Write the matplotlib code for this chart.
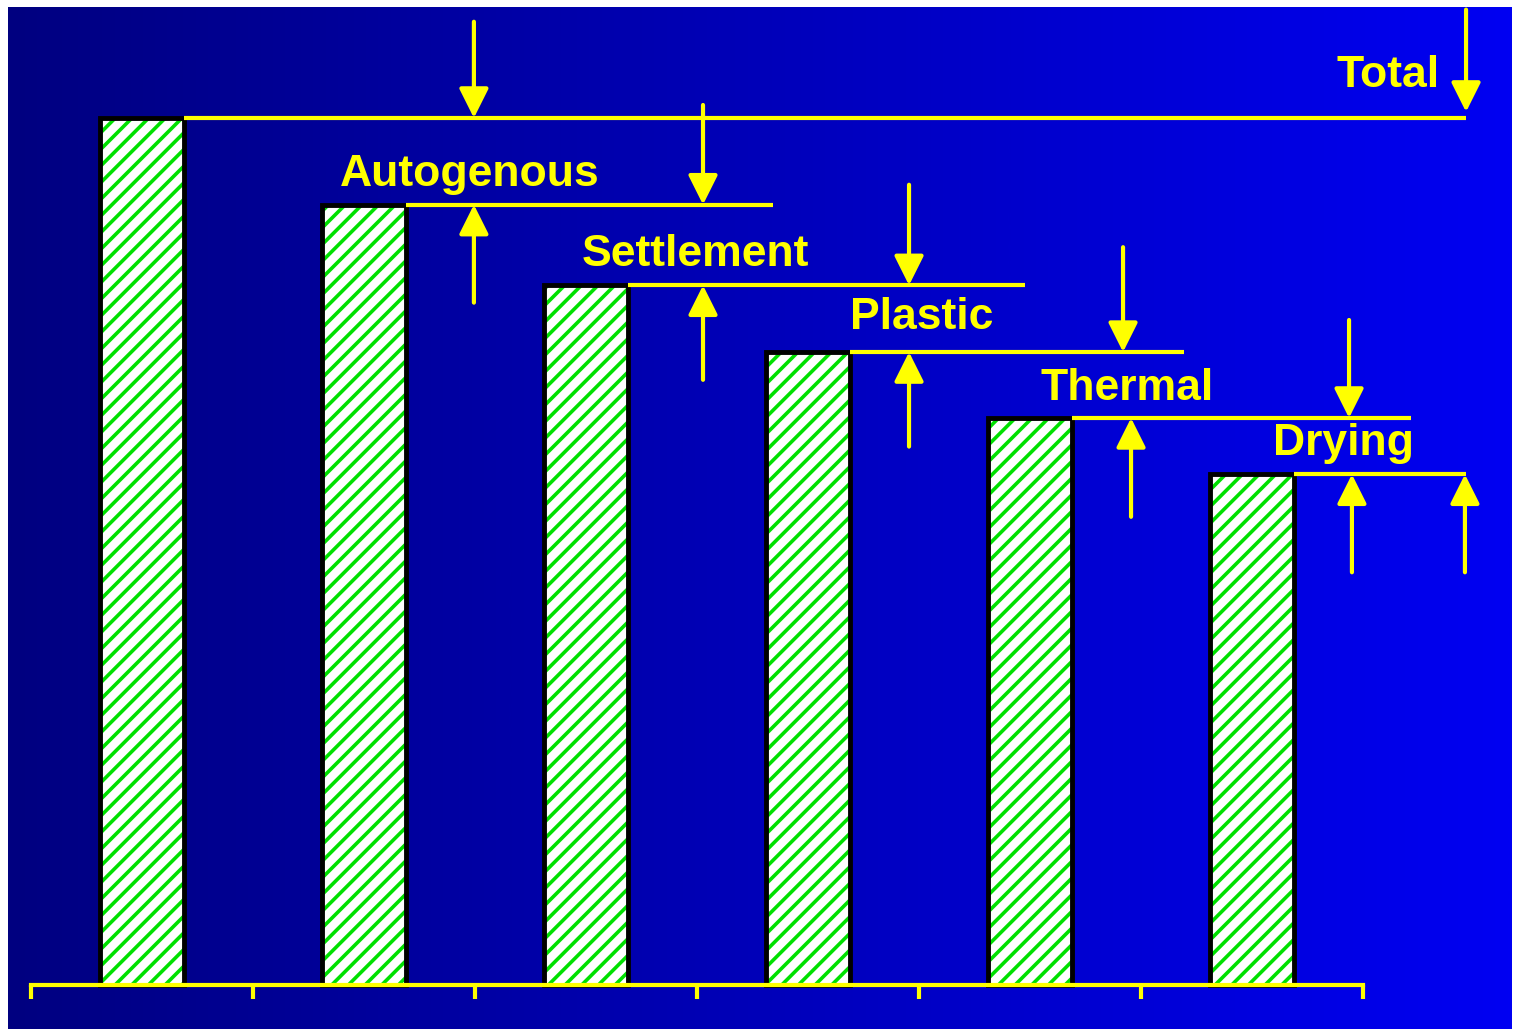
import numpy as np
import matplotlib.pyplot as plt
from matplotlib.colors import LinearSegmentedColormap

# Niveles de la barra (deformación acumulada, % del total)
niveles = [100, 90, 80.7, 73, 65.4, 58.9]
componentes = ['Autogenous', 'Settlement', 'Plastic', 'Thermal', 'Drying']
etiqueta_total = 'Total'

amarillo = '#FFFF00'
verde = '#00E000'

fig = plt.figure(figsize=(15.15, 10.29), dpi=100, facecolor='white')
ax = fig.add_axes([8/1515, 0, 1504/1515, 1022/1029])

xlim = (-0.1036, 6.671)
ylim = (-5.075, 112.8)

# fondo degradado azul
fondo = LinearSegmentedColormap.from_list('fondo', ['#000080', '#0000F2'])
ax.imshow(np.linspace(0, 1, 512)[None, :], cmap=fondo, aspect='auto',
          extent=(xlim[0], xlim[1], ylim[0], ylim[1]), zorder=0)

# barras rayadas
x = np.arange(len(niveles)) + 0.5
ancho = 0.375
plt.rcParams['hatch.linewidth'] = 2.6
ax.bar(x, niveles, ancho, color='white', edgecolor=verde, linewidth=0,
       hatch='//', zorder=1)
ax.bar(x, niveles, ancho, fill=False, edgecolor='black', linewidth=3.5,
       zorder=1.5)

# líneas horizontales desde la parte superior de cada barra
fin_linea = [6.464, 3.342, 4.477, 5.194, 6.216, 6.464]
for xi, nivel, xf in zip(x, niveles, fin_linea):
    ax.plot([xi + ancho/2, xf], [nivel, nivel], color=amarillo, lw=3,
            solid_capstyle='butt', zorder=2)

# flechas: (x flecha abajo, y inicio, x flecha arriba, y inicio)
flechas = [(1.995, 111.1, 1.995, 78.7),
           (3.027, 101.5, 3.027, 69.8),
           (3.955, 92.3, 3.955, 62.1),
           (4.919, 85.1, 4.955, 54.0),
           (5.937, 76.7, 5.950, 47.6)]
estilo = dict(arrowstyle='-|>,head_length=0.9,head_width=0.45',
              color=amarillo, lw=3, mutation_scale=20,
              shrinkA=0, shrinkB=0)

for i, (xd, yd, xu, yu) in enumerate(flechas):
    ax.annotate('', xy=(xd, niveles[i]), xytext=(xd, yd), arrowprops=estilo)
    ax.annotate('', xy=(xu, niveles[i + 1]), xytext=(xu, yu), arrowprops=estilo)

# flechas del total
ax.annotate('', xy=(6.464, niveles[0] + 0.7), xytext=(6.464, 112.5),
            arrowprops=estilo)
ax.annotate('', xy=(6.459, niveles[-1]), xytext=(6.459, 47.6),
            arrowprops=estilo)

# etiquetas
fuente = dict(color=amarillo, fontsize=32, fontweight='bold',
              family='Liberation Sans', ha='center', va='baseline')
x_texto = [1.977, 2.991, 4.014, 4.937, 5.910]
dy_texto = [2.2, 2.2, 2.65, 2.1, 2.2]
for i, nombre in enumerate(componentes):
    ax.text(x_texto[i], niveles[i + 1] + dy_texto[i], nombre, **fuente)
ax.text(6.113, niveles[0] + 3.6, etiqueta_total, **fuente)

# eje inferior
for lado in ['top', 'left', 'right']:
    ax.spines[lado].set_visible(False)
ax.spines['bottom'].set_position(('data', 0))
ax.spines['bottom'].set_bounds(0, len(niveles))
ax.spines['bottom'].set_color(amarillo)
ax.spines['bottom'].set_linewidth(3)
ax.spines['bottom'].set_zorder(3)
ax.set_xticks(np.arange(len(niveles) + 1))
ax.set_xticklabels([])
ax.tick_params(axis='x', direction='out', length=10, width=3, color=amarillo)
ax.set_yticks([])

ax.set_xlim(*xlim)
ax.set_ylim(*ylim)

fig.savefig('out.png', dpi=100, facecolor='white')
